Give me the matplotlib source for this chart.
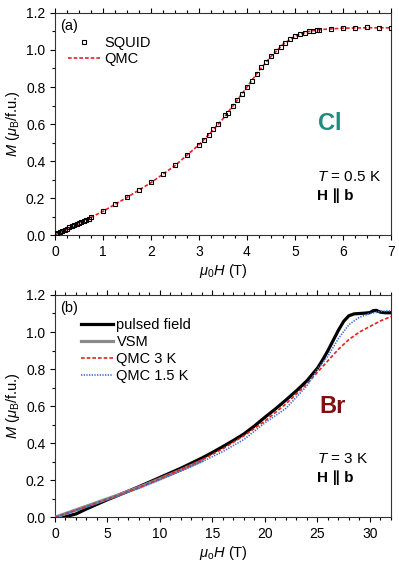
import numpy as np
import matplotlib
matplotlib.use('Agg')
import matplotlib.pyplot as plt
from matplotlib.ticker import MultipleLocator

plt.rcParams['font.family'] = ['Liberation Sans', 'DejaVu Sans']
plt.rcParams['mathtext.fontset'] = 'custom'
plt.rcParams['mathtext.rm'] = 'Liberation Sans'
plt.rcParams['mathtext.it'] = 'Liberation Sans:italic'
plt.rcParams['mathtext.bf'] = 'Liberation Sans:bold'

# ---- panel (a): Cl, T = 0.5 K ----
squid_H = [0.02, 0.05, 0.1, 0.15, 0.2, 0.25, 0.3, 0.35, 0.4, 0.45, 0.5, 0.55, 0.6, 0.65, 0.7, 0.75,
           1.0, 1.25, 1.5, 1.75, 2.0, 2.25, 2.5, 2.75, 3.0, 3.1, 3.2, 3.3, 3.4, 3.55, 3.6, 3.7, 3.8,
           3.9, 4.0, 4.1, 4.2, 4.3, 4.4, 4.5, 4.6, 4.7, 4.8, 4.9, 5.0, 5.1, 5.2, 5.3, 5.38, 5.46,
           5.5, 5.75, 6.0, 6.25, 6.5, 6.75, 7.0]
squid_M = [0.008, 0.012, 0.018, 0.024, 0.029, 0.035, 0.041, 0.047, 0.053, 0.059, 0.065, 0.071,
           0.077, 0.083, 0.089, 0.095, 0.131, 0.167, 0.207, 0.241, 0.284, 0.329, 0.376, 0.43,
           0.489, 0.513, 0.543, 0.572, 0.599, 0.646, 0.662, 0.696, 0.729, 0.763, 0.80, 0.835,
           0.869, 0.907, 0.937, 0.966, 0.995, 1.018, 1.04, 1.058, 1.074, 1.087, 1.094, 1.101,
           1.105, 1.107, 1.108, 1.115, 1.119, 1.12, 1.123, 1.12, 1.12]
qmc_a_H = [0, 0.5, 1, 1.5, 2, 2.5, 3, 3.25, 3.5, 3.75, 4, 4.25, 4.5, 4.75, 5, 5.25, 5.5, 6, 6.5, 7]
qmc_a_M = [0, 0.063, 0.128, 0.203, 0.283, 0.375, 0.488, 0.555, 0.628, 0.713, 0.80, 0.888,
           0.965, 1.03, 1.075, 1.098, 1.11, 1.118, 1.12, 1.12]

# ---- panel (b): Br, T = 3 K ----
pulsed_H = [0.8, 2, 3, 4, 5, 6, 8, 10, 12, 14, 15, 16, 17, 18, 19, 20, 21, 22, 23, 24, 25, 25.5,
            26, 26.5, 27, 27.5, 28, 28.5, 29, 29.5, 30, 30.3, 30.6, 31, 31.5, 32]
pulsed_M = [0, 0.018, 0.045, 0.07, 0.095, 0.118, 0.165, 0.215, 0.265, 0.32, 0.35, 0.382, 0.415,
            0.45, 0.493, 0.54, 0.585, 0.633, 0.683, 0.737, 0.805, 0.85, 0.90, 0.955, 1.01, 1.058,
            1.088, 1.098, 1.10, 1.102, 1.105, 1.115, 1.117, 1.107, 1.104, 1.104]
vsm_H = [0, 2, 4, 6, 8, 10, 12, 14]
vsm_M = [0, 0.04, 0.08, 0.12, 0.162, 0.208, 0.255, 0.305]
qmc3_H = [0, 2, 4, 6, 8, 10, 12, 14, 16, 18, 20, 22, 24, 25, 26, 27, 28, 29, 30, 31, 32]
qmc3_M = [0, 0.038, 0.078, 0.118, 0.16, 0.208, 0.258, 0.31, 0.37, 0.44, 0.52, 0.612, 0.72,
          0.783, 0.845, 0.907, 0.96, 1.0, 1.03, 1.06, 1.083]
qmc15_H = [0, 2, 4, 6, 8, 10, 12, 14, 16, 18, 20, 22, 24, 25, 26, 27, 28, 29, 30, 31, 32]
qmc15_M = [0, 0.036, 0.075, 0.115, 0.156, 0.202, 0.25, 0.30, 0.355, 0.42, 0.51, 0.588, 0.71,
           0.80, 0.87, 0.965, 1.04, 1.08, 1.10, 1.111, 1.115]

fig = plt.figure(figsize=(3.99, 5.70), dpi=100)
ax1 = fig.add_axes([0.1378, 0.5877, 0.842, 0.3895])
ax2 = fig.add_axes([0.1378, 0.0925, 0.842, 0.39])


def style_axis(ax, xminor):
    ax.yaxis.set_major_locator(MultipleLocator(0.2))
    ax.yaxis.set_minor_locator(MultipleLocator(0.1))
    ax.xaxis.set_minor_locator(MultipleLocator(xminor))
    ax.tick_params(which='both', direction='out', top=True, right=False, labelsize=10, width=0.8)
    ax.tick_params(which='major', length=3.5)
    ax.tick_params(which='minor', length=2)
    for s in ax.spines.values():
        s.set_linewidth(0.8)
        s.set_color('#333333')
    ax.yaxis.set_major_formatter(matplotlib.ticker.FormatStrFormatter('%.1f'))
    ax.set_ylim(0, 1.2)
    ax.set_ylabel(r'$M$ ($\mu_\mathrm{B}$/f.u.)', fontsize=10.5, labelpad=3)


# panel (a)
ax1.plot(squid_H, squid_M, 's', ms=3.2, mfc='none', mec='black', mew=0.8, label='SQUID', zorder=3)
ax1.plot(qmc_a_H, qmc_a_M, color='#e82020', lw=1.2, dashes=(2.2, 1.2), label='QMC', zorder=2)
ax1.set_xlim(0, 7)
ax1.xaxis.set_major_locator(MultipleLocator(1))
style_axis(ax1, 0.25)
ax1.set_xlabel(r'$\mu_0H$ (T)', fontsize=10.5, labelpad=2)
ax1.legend(loc='upper left', bbox_to_anchor=(0.017, 0.928), frameon=False, fontsize=10.5,
           borderpad=0, handlelength=2.2, handletextpad=0.3, labelspacing=0.12)
ax1.text(0.015, 0.94, '(a)', transform=ax1.transAxes, fontsize=10.5, va='center')
ax1.text(0.783, 0.473, 'Cl', transform=ax1.transAxes, fontsize=17, fontweight='bold',
         color='#1e8c7e', va='baseline')
ax1.text(0.78, 0.243, r'$T$ = 0.5 K', transform=ax1.transAxes, fontsize=11, va='baseline')
ax1.text(0.78, 0.158, 'H ∥ b', transform=ax1.transAxes, fontsize=11, fontweight='bold',
         va='baseline')

# panel (b)
ax2.plot(pulsed_H, pulsed_M, color='black', lw=2.3, label='pulsed field', zorder=3)
ax2.plot(vsm_H, vsm_M, color='#8a8a8a', lw=2.3, label='VSM', zorder=4)
ax2.plot(qmc3_H, qmc3_M, color='#e82020', lw=1.2, dashes=(2.2, 1.2), label='QMC 3 K', zorder=5)
ax2.plot(qmc15_H, qmc15_M, color='#3a6fd8', lw=1.2, dashes=(0.8, 0.8), label='QMC 1.5 K', zorder=6)
ax2.set_xlim(0, 32)
ax2.xaxis.set_major_locator(MultipleLocator(5))
style_axis(ax2, 1)
ax2.set_xlabel(r'$\mu_\mathrm{o}H$ (T)', fontsize=10.5, labelpad=2)
ax2.legend(loc='upper left', bbox_to_anchor=(0.055, 0.928), frameon=False, fontsize=10.5,
           borderpad=0, handlelength=2.2, handletextpad=0.25, labelspacing=0.2)
ax2.text(0.015, 0.94, '(b)', transform=ax2.transAxes, fontsize=10.5, va='center')
ax2.text(0.786, 0.469, 'Br', transform=ax2.transAxes, fontsize=17, fontweight='bold',
         color='#801010', va='baseline')
ax2.text(0.78, 0.244, r'$T$ = 3 K', transform=ax2.transAxes, fontsize=11, va='baseline')
ax2.text(0.78, 0.16, 'H ∥ b', transform=ax2.transAxes, fontsize=11, fontweight='bold',
         va='baseline')

fig.savefig('out.png', dpi=100)
